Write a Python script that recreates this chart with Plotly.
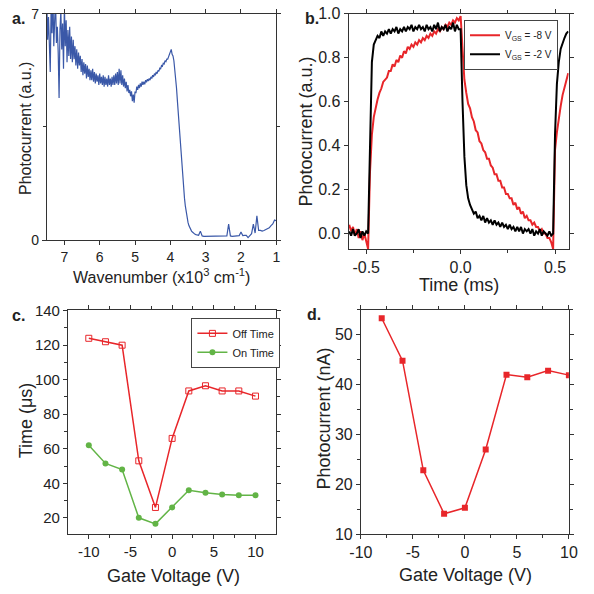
import plotly.graph_objects as go

# ---------------- data ----------------
# (a) photocurrent spectrum (wavenumber in 10^3 cm^-1)
wavenumber = [
    7.500, 7.475, 7.450, 7.425, 7.400, 7.375, 7.350, 7.325, 7.300, 7.275,
    7.250, 7.225, 7.200, 7.175, 7.150, 7.125, 7.100, 7.075, 7.050, 7.025,
    7.000, 6.975, 6.950, 6.925, 6.900, 6.875, 6.850, 6.825, 6.800, 6.775,
    6.750, 6.725, 6.700, 6.675, 6.650, 6.625, 6.600, 6.575, 6.550, 6.525,
    6.500, 6.475, 6.450, 6.425, 6.400, 6.375, 6.350, 6.325, 6.300, 6.275,
    6.250, 6.225, 6.200, 6.175, 6.150, 6.125, 6.100, 6.075, 6.050, 6.025,
    6.000, 5.975, 5.950, 5.925, 5.900, 5.875, 5.850, 5.825, 5.800, 5.775,
    5.750, 5.725, 5.700, 5.675, 5.650, 5.625, 5.600, 5.575, 5.550, 5.525,
    5.500, 5.475, 5.450, 5.425, 5.400, 5.375, 5.350, 5.325, 5.300, 5.275,
    5.250, 5.225, 5.200, 5.175, 5.150, 5.125, 5.100, 5.075, 5.050, 5.025,
    5.000, 4.975, 4.950, 4.925, 4.900, 4.875, 4.850, 4.825, 4.800, 4.775,
    4.750, 4.725, 4.700, 4.675, 4.650, 4.625, 4.600, 4.575, 4.550, 4.525,
    4.500, 4.475, 4.450, 4.425, 4.400, 4.375, 4.350, 4.325, 4.300, 4.275,
    4.250, 4.225, 4.200, 4.175, 4.150, 4.125, 4.100, 4.075, 4.050, 4.025,
    4.000, 3.975, 3.950, 3.925, 3.900, 3.875, 3.850, 3.825, 3.800, 3.775,
    3.750, 3.725, 3.700, 3.675, 3.650, 3.625, 3.600, 3.575, 3.550, 3.525,
    3.500, 3.475, 3.450, 3.425, 3.400, 3.375, 3.350, 3.325, 3.300, 3.275,
    3.25, 3.20, 3.15, 3.10, 3.05, 3.00, 2.95, 2.90, 2.85, 2.80,
    2.75, 2.70, 2.65, 2.60, 2.55, 2.50, 2.45, 2.40, 2.35, 2.30,
    2.25, 2.20, 2.15, 2.10, 2.05, 2.00, 1.95, 1.90, 1.85, 1.80,
    1.75, 1.70, 1.65, 1.60, 1.55, 1.50, 1.45, 1.40, 1.35, 1.30,
    1.25, 1.20, 1.15, 1.10, 1.05, 1.00]
spectrum = [
    7.5, 6.2, 6.9, 5.9, 5.2, 7.3, 6.4, 7.6, 6.0, 6.8,
    7.4, 6.1, 6.6, 5.8, 4.4, 6.5, 7.1, 5.9, 6.7, 5.3,
    7.3, 6.0, 6.8, 5.5, 6.5, 5.7, 6.6, 5.6, 6.3, 5.5,
    6.2, 5.6, 6.0, 5.4, 5.9, 5.3, 5.8, 5.4, 5.7, 5.2,
    5.6, 5.1, 5.5, 5.15, 5.45, 5.0, 5.4, 5.05, 5.3, 4.95,
    5.25, 4.95, 5.3, 4.9, 5.2, 4.85, 5.15, 4.9, 5.1, 4.8,
    5.15, 4.85, 5.05, 4.8, 5.1, 4.75, 5.05, 4.8, 5.0, 4.75,
    5.1, 4.8, 5.0, 4.75, 5.05, 4.8, 5.1, 4.8, 5.15, 4.85,
    5.2, 4.8, 5.3, 4.85, 5.25, 4.8, 5.1, 4.75, 5.0, 4.7,
    4.9, 4.6, 4.8, 4.55, 4.65, 4.45, 4.6, 4.3, 4.5, 4.25,
    4.6, 4.55, 4.75, 4.65, 4.8, 4.7, 4.85, 4.75, 4.9, 4.8,
    4.9, 4.82, 4.95, 4.88, 4.98, 4.92, 5.0, 4.95, 5.05, 5.0,
    5.1, 5.05, 5.15, 5.1, 5.2, 5.15, 5.25, 5.22, 5.32, 5.3,
    5.4, 5.38, 5.47, 5.45, 5.55, 5.52, 5.6, 5.6, 5.68, 5.7,
    5.8, 5.9, 5.75, 5.7, 5.55, 5.3, 5.0, 4.7, 4.3, 3.9,
    3.4, 3.0, 2.6, 2.2, 1.9, 1.6, 1.3, 1.05, 0.85, 0.7,
    0.55, 0.45, 0.38, 0.32, 0.28, 0.25, 0.22, 0.2, 0.18, 0.17,
    0.16, 0.15, 0.28, 0.13, 0.12, 0.12, 0.11, 0.12, 0.11, 0.12,
    0.11, 0.12, 0.11, 0.12, 0.12, 0.11, 0.12, 0.13, 0.5, 0.13,
    0.12, 0.12, 0.13, 0.13, 0.14, 0.25, 0.14, 0.15, 0.15, 0.08,
    0.16, 0.2, 0.5, 0.22, 0.75, 0.3, 0.3, 0.28, 0.3, 0.33,
    0.35, 0.38, 0.45, 0.5, 0.62, 0.6]

# (b) transient photocurrent
time_ms = [-0.59, -0.58, -0.57, -0.56, -0.55, -0.54, -0.53, -0.52, -0.51, -0.50,
           -0.49, -0.48, -0.47, -0.46, -0.45, -0.44, -0.43, -0.42, -0.41, -0.40,
           -0.39, -0.38, -0.37, -0.36, -0.35, -0.34, -0.33, -0.32, -0.31, -0.30,
           -0.29, -0.28, -0.27, -0.26, -0.25, -0.24, -0.23, -0.22, -0.21, -0.20,
           -0.19, -0.18, -0.17, -0.16, -0.15, -0.14, -0.13, -0.12, -0.11, -0.10,
           -0.09, -0.08, -0.07, -0.06, -0.05, -0.04, -0.03, -0.02, -0.01, 0.00,
           0.01, 0.02, 0.03, 0.04, 0.05, 0.06, 0.07, 0.08, 0.09, 0.10,
           0.11, 0.12, 0.13, 0.14, 0.15, 0.16, 0.17, 0.18, 0.19, 0.20,
           0.21, 0.22, 0.23, 0.24, 0.25, 0.26, 0.27, 0.28, 0.29, 0.30,
           0.31, 0.32, 0.33, 0.34, 0.35, 0.36, 0.37, 0.38, 0.39, 0.40,
           0.41, 0.42, 0.43, 0.44, 0.45, 0.46, 0.47, 0.48, 0.49, 0.50,
           0.51, 0.52, 0.53, 0.54, 0.55, 0.56, 0.57]
pc_m8V = [0.04, 0.01, 0.03, -0.01, 0.02, -0.02, 0.01, -0.03, 0.00, -0.04,
          -0.07, 0.28, 0.45, 0.53, 0.58, 0.61, 0.64, 0.66, 0.69, 0.70,
          0.71, 0.74, 0.74, 0.77, 0.76, 0.79, 0.78, 0.81, 0.80, 0.83,
          0.82, 0.85, 0.84, 0.86, 0.85, 0.87, 0.86, 0.88, 0.87, 0.89,
          0.88, 0.90, 0.89, 0.91, 0.90, 0.92, 0.91, 0.93, 0.92, 0.94,
          0.93, 0.95, 0.94, 0.96, 0.95, 0.97, 0.96, 0.98, 0.97, 0.99,
          0.82, 0.70, 0.64, 0.59, 0.57, 0.53, 0.51, 0.47, 0.46, 0.42,
          0.41, 0.38, 0.37, 0.34, 0.34, 0.31, 0.30, 0.27, 0.27, 0.24,
          0.24, 0.21, 0.21, 0.18, 0.18, 0.16, 0.16, 0.13, 0.14, 0.11,
          0.12, 0.09, 0.10, 0.07, 0.08, 0.06, 0.06, 0.04, 0.05, 0.03,
          0.03, 0.01, 0.02, 0.00, 0.00, -0.02, -0.02, -0.04, -0.07, 0.38,
          0.46, 0.53, 0.58, 0.63, 0.66, 0.70, 0.73]
pc_m2V = [0.01, -0.01, 0.02, -0.01, 0.00, 0.02, -0.02, 0.01, -0.01, 0.01,
          0.00, 0.45, 0.78, 0.86, 0.88, 0.90, 0.89, 0.92, 0.90, 0.92,
          0.91, 0.93, 0.91, 0.93, 0.92, 0.94, 0.91, 0.93, 0.92, 0.94,
          0.92, 0.94, 0.93, 0.95, 0.92, 0.94, 0.93, 0.95, 0.93, 0.94,
          0.92, 0.95, 0.93, 0.94, 0.92, 0.95, 0.93, 0.96, 0.92, 0.94,
          0.93, 0.95, 0.92, 0.94, 0.93, 0.96, 0.92, 0.95, 0.93, 0.93,
          0.60, 0.35, 0.22, 0.16, 0.13, 0.11, 0.09, 0.10, 0.07, 0.08,
          0.06, 0.08, 0.05, 0.07, 0.05, 0.06, 0.04, 0.06, 0.04, 0.05,
          0.03, 0.05, 0.03, 0.04, 0.02, 0.04, 0.02, 0.03, 0.01, 0.03,
          0.01, 0.03, 0.00, 0.02, 0.01, 0.02, 0.00, 0.02, -0.01, 0.01,
          0.00, 0.02, -0.01, 0.01, 0.00, -0.01, 0.01, -0.01, 0.00, 0.45,
          0.68, 0.78, 0.84, 0.87, 0.89, 0.91, 0.92]

# (c) response times (µs)
gate_c = [-10, -8, -6, -4, -2, 0, 2, 4, 6, 8, 10]
off_time = [124, 122, 120, 53, 26, 66, 93.5, 96.5, 93.5, 93.5, 90.5]
on_time = [62, 51.5, 48, 20, 16.5, 26, 36, 34.5, 33.5, 33, 33]

# (d) photocurrent vs gate voltage (nA)
gate_d = [-8, -6, -4, -2, 0, 2, 4, 6, 8, 10]
photocurrent_nA = [53.3, 44.8, 22.8, 14.1, 15.3, 27, 42, 41.5, 42.8, 41.9]

# tick labels
a_x_ticks = [7, 6, 5, 4, 3, 2, 1]
a_y_ticks = [0, 7]
b_x_ticks = [-0.5, 0, 0.5]
b_x_text = ["-0.5", "0.0", "0.5"]
b_y_ticks = [0, 0.2, 0.4, 0.6, 0.8, 1.0]
b_y_text = ["0.0", "0.2", "0.4", "0.6", "0.8", "1.0"]
gate_ticks = [-10, -5, 0, 5, 10]
gate_text = ["-10", "-5", "0", "5", "10"]
c_y_ticks = [20, 40, 60, 80, 100, 120, 140]
d_y_ticks = [10, 20, 30, 40, 50]

# ---------------- figure ----------------
W = H = 594
def px(x):
    return x / W
def py(y):
    return 1 - y / H

RED = "#e8262a"
GREEN = "#62b446"
BLUE = "#3a58a8"
FONT = "Liberation Sans, Arial, sans-serif"
INK = "#222"

fig = go.Figure()

fig.add_trace(go.Scatter(x=wavenumber, y=spectrum, mode="lines",
                         line=dict(color=BLUE, width=1.2), showlegend=False,
                         xaxis="x", yaxis="y"))
fig.add_trace(go.Scatter(x=time_ms, y=pc_m8V, mode="lines",
                         line=dict(color=RED, width=2),
                         name="V<sub>GS</sub> = -8 V", legend="legend",
                         xaxis="x2", yaxis="y2"))
fig.add_trace(go.Scatter(x=time_ms, y=pc_m2V, mode="lines",
                         line=dict(color="black", width=2),
                         name="V<sub>GS</sub> = -2 V", legend="legend",
                         xaxis="x2", yaxis="y2"))
fig.add_trace(go.Scatter(x=gate_c, y=off_time, mode="lines+markers",
                         line=dict(color=RED, width=1.5),
                         marker=dict(symbol="square-open", size=6, color=RED, line=dict(width=1)),
                         name="Off Time", legend="legend2",
                         xaxis="x3", yaxis="y3"))
fig.add_trace(go.Scatter(x=gate_c, y=on_time, mode="lines+markers",
                         line=dict(color=GREEN, width=1.5),
                         marker=dict(symbol="circle", size=6, color=GREEN),
                         name="On Time", legend="legend2",
                         xaxis="x3", yaxis="y3"))
fig.add_trace(go.Scatter(x=gate_d, y=photocurrent_nA, mode="lines+markers",
                         line=dict(color=RED, width=1.5),
                         marker=dict(symbol="square", size=6, color=RED),
                         showlegend=False, xaxis="x4", yaxis="y4"))

def axis(size, minor_vals=None, **kw):
    d = dict(showline=True, linecolor="#333", linewidth=1, mirror="ticks",
             ticks="outside", ticklen=4, tickwidth=1, tickcolor="#333",
             showgrid=False, zeroline=False,
             tickfont=dict(family=FONT, size=size, color=INK))
    if minor_vals is not None:
        d["minor"] = dict(tickvals=minor_vals, ticks="outside", ticklen=3,
                          tickwidth=1, tickcolor="#333", showgrid=False)
    d.update(kw)
    return d

fig.update_layout(
    width=W, height=H, margin=dict(l=0, r=0, t=0, b=0),
    paper_bgcolor="white", plot_bgcolor="white",
    font=dict(family=FONT, color=INK),
    xaxis=axis(14, domain=[px(36), px(274)], range=[7.5, 1], tickvals=a_x_ticks,
               anchor="y"),
    yaxis=axis(14, minor_vals=[3.5], domain=[py(239), py(6)], range=[0, 7],
               tickvals=a_y_ticks, anchor="x"),
    xaxis2=axis(16, minor_vals=[-0.25, 0.25], domain=[px(349), px(577)],
                range=[-0.593, 0.572], tickvals=b_x_ticks, ticktext=b_x_text,
                anchor="y2"),
    yaxis2=axis(16, domain=[py(248), py(6)], range=[-0.07, 1.0], tickvals=b_y_ticks,
                ticktext=b_y_text, anchor="x2"),
    xaxis3=axis(15, minor_vals=[-7.5, -2.5, 2.5, 7.5], domain=[px(58), px(274)],
                range=[-12.5, 12.5], tickvals=gate_ticks, ticktext=gate_text,
                anchor="y3"),
    yaxis3=axis(15, minor_vals=[30, 50, 70, 90, 110, 130],
                domain=[py(541.7), py(310.7)], range=[10.5, 140.5],
                tickvals=c_y_ticks, anchor="x3"),
    xaxis4=axis(16, minor_vals=[-7.5, -2.5, 2.5, 7.5], domain=[px(361.7), px(577.3)],
                range=[-10, 10], tickvals=gate_ticks, ticktext=gate_text,
                anchor="y4"),
    yaxis4=axis(16, minor_vals=[15, 25, 35, 45, 55], domain=[py(541.7), py(310.7)],
                range=[10, 55], tickvals=d_y_ticks, anchor="x4"),
    legend=dict(x=px(566), y=py(12), xanchor="right", yanchor="top",
                bgcolor="white", bordercolor="#444", borderwidth=1,
                font=dict(family=FONT, size=10, color=INK),
                tracegroupgap=0, itemwidth=30),
    legend2=dict(x=px(186), y=py(319), xanchor="left", yanchor="top",
                 bgcolor="white", bordercolor="#444", borderwidth=1,
                 font=dict(family=FONT, size=11, color=INK),
                 tracegroupgap=0, itemwidth=30),
)

ann = []
def label(text, x, y, angle=0, size=16, bold=False):
    ann.append(dict(text=("<b>%s</b>" % text) if bold else text,
                    x=px(x), y=py(y), xref="paper", yref="paper",
                    xanchor="center", yanchor="middle", showarrow=False,
                    textangle=angle, font=dict(family=FONT, size=size, color=INK)))

# axis titles
label("Photocurrent (a.u.)", 14, 124, angle=-90, size=16)
label("Wavenumber (x10<sup>3</sup> cm<sup>-1</sup>)", 155, 276, size=16)
label("Photocurrent (a.u.)", 305, 127, angle=-90, size=18)
label("Time (ms)", 463, 285, size=18)
label("Time (μs)", 14, 425, angle=-90, size=18)
label("Gate Voltage (V)", 167, 585, size=18)
label("Photocurrent (nA)", 323, 423, angle=-90, size=18)
label("Gate Voltage (V)", 470, 584, size=18)
# panel letters
label("a.", 7, 11, size=16, bold=True)
label("b.", 311, 11, size=16, bold=True)
label("c.", 7, 317, size=16, bold=True)
label("d.", 313, 316, size=16, bold=True)

fig.update_layout(annotations=ann)
fig.write_html("out.html", config={"displayModeBar": False},
               post_script="document.body.style.margin='0';document.body.style.padding='0';")
